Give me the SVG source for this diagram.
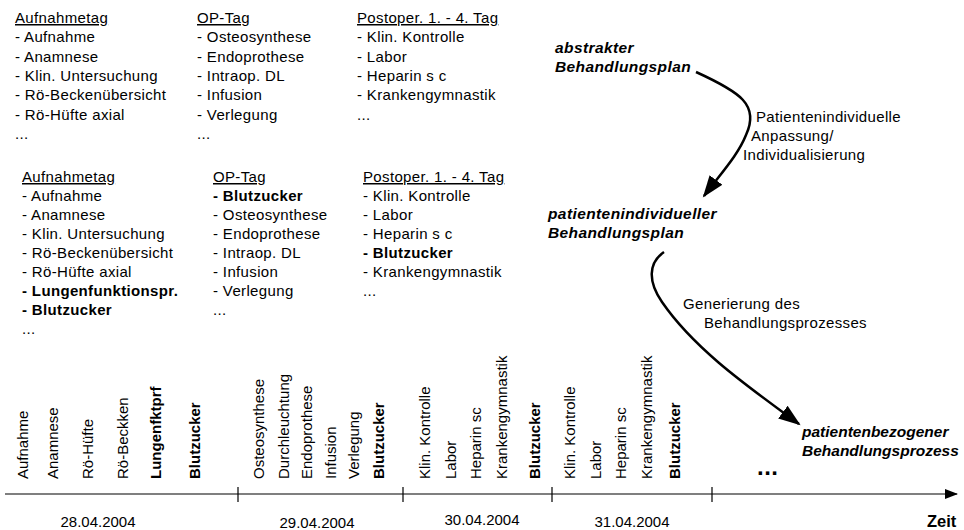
<svg xmlns="http://www.w3.org/2000/svg" width="964" height="530" viewBox="0 0 964 530">
<style>
text{font-family:"Liberation Sans",Arial,sans-serif;font-size:15px;fill:#000}
.l text{letter-spacing:0.35px}
.h{text-decoration:underline}
.b{font-weight:bold}
.bi{font-weight:bold;font-style:italic;font-size:15.5px;letter-spacing:0.4px}
.c{stroke:#000;stroke-width:2.5;fill:none}
.ax{stroke:#000;stroke-width:1.2;fill:none}
.m{text-anchor:middle}
</style>
<defs>
<marker id="ah" markerUnits="userSpaceOnUse" markerWidth="24" markerHeight="20" viewBox="0 0 24 20" refX="20" refY="10" orient="auto">
<path d="M0,2 L22,10 L0,18 Z" fill="#000"/>
</marker>
<marker id="ax" markerUnits="userSpaceOnUse" markerWidth="14" markerHeight="12" viewBox="0 0 14 12" refX="12" refY="6" orient="auto">
<path d="M0,1 L13,6 L0,11 Z" fill="#000"/>
</marker>
</defs>

<g id="plan-abstrakt" class="l">
<text class="h" x="15" y="23">Aufnahmetag</text>
<text x="15" y="42.3">- Aufnahme</text>
<text x="15" y="61.6">- Anamnese</text>
<text x="15" y="80.9">- Klin. Untersuchung</text>
<text x="15" y="100.2">- Rö-Beckenübersicht</text>
<text x="15" y="119.5">- Rö-Hüfte axial</text>
<text x="15" y="138.8">...</text>
<text class="h" x="197" y="23">OP-Tag</text>
<text x="197" y="42.3">- Osteosynthese</text>
<text x="197" y="61.6">- Endoprothese</text>
<text x="197" y="80.9">- Intraop. DL</text>
<text x="197" y="100.2">- Infusion</text>
<text x="197" y="119.5">- Verlegung</text>
<text x="197" y="138.8">...</text>
<text class="h" x="357" y="23">Postoper. 1. - 4. Tag</text>
<text x="357" y="42.3">- Klin. Kontrolle</text>
<text x="357" y="61.6">- Labor</text>
<text x="357" y="80.9">- Heparin s c</text>
<text x="357" y="100.2">- Krankengymnastik</text>
<text x="357" y="119.5">...</text>
</g>

<g id="plan-individuell" class="l">
<text class="h" x="22" y="182">Aufnahmetag</text>
<text x="22" y="201">- Aufnahme</text>
<text x="22" y="220">- Anamnese</text>
<text x="22" y="239">- Klin. Untersuchung</text>
<text x="22" y="258">- Rö-Beckenübersicht</text>
<text x="22" y="277">- Rö-Hüfte axial</text>
<text class="b" x="22" y="296">- Lungenfunktionspr.</text>
<text class="b" x="22" y="315">- Blutzucker</text>
<text x="22" y="334">...</text>
<text class="h" x="213" y="182">OP-Tag</text>
<text class="b" x="213" y="201">- Blutzucker</text>
<text x="213" y="220">- Osteosynthese</text>
<text x="213" y="239">- Endoprothese</text>
<text x="213" y="258">- Intraop. DL</text>
<text x="213" y="277">- Infusion</text>
<text x="213" y="296">- Verlegung</text>
<text x="213" y="315">...</text>
<text class="h" x="363" y="182">Postoper. 1. - 4. Tag</text>
<text x="363" y="201">- Klin. Kontrolle</text>
<text x="363" y="220">- Labor</text>
<text x="363" y="239">- Heparin s c</text>
<text class="b" x="363" y="258">- Blutzucker</text>
<text x="363" y="277">- Krankengymnastik</text>
<text x="363" y="296">...</text>
</g>

<g id="label-abstrakt">
<text class="bi" x="555" y="53">abstrakter</text>
<text class="bi" x="555" y="72">Behandlungsplan</text>
</g>
<g id="label-individuell">
<text class="bi" x="548" y="219">patientenindividueller</text>
<text class="bi" x="548" y="238">Behandlungsplan</text>
</g>
<g id="label-prozess">
<text class="bi" x="802" y="437" style="letter-spacing:0">patientenbezogener</text>
<text class="bi" x="802" y="456" style="letter-spacing:0">Behandlungsprozess</text>
</g>

<g id="connectors" class="l">
<path class="c" d="M696,72 C740,92 760,105 746,135 C738,155 722,172 704,196" marker-end="url(#ah)"/>
<path class="c" d="M664,252 C648,263 648,282 662,302 C695,350 750,388 799,424" marker-end="url(#ah)"/>
<text x="756" y="122">Patientenindividuelle</text>
<text x="751" y="141">Anpassung/</text>
<text x="743" y="160">Individualisierung</text>
<text x="683" y="309">Generierung des</text>
<text x="704" y="328">Behandlungsprozesses</text>
</g>

<g id="timeline">
<path class="ax" d="M5,494 H957" marker-end="url(#ax)"/>
<path class="ax" d="M238,487 V502 M403,487 V502 M552,487 V502 M712,487 V502"/>
<g transform="translate(28,479) rotate(-90)"><text>Aufnahme</text></g>
<g transform="translate(58,479) rotate(-90)"><text>Anamnese</text></g>
<g transform="translate(93,479) rotate(-90)"><text>Rö-Hüfte</text></g>
<g transform="translate(128,479) rotate(-90)"><text>Rö-Beckken</text></g>
<g transform="translate(161,479) rotate(-90)"><text class="b">Lungenfktprf</text></g>
<g transform="translate(200,479) rotate(-90)"><text class="b">Blutzucker</text></g>
<g transform="translate(264,479) rotate(-90)"><text>Osteosynthese</text></g>
<g transform="translate(289,479) rotate(-90)"><text>Durchleuchtung</text></g>
<g transform="translate(312,479) rotate(-90)"><text>Endoprothese</text></g>
<g transform="translate(336,479) rotate(-90)"><text>Infusion</text></g>
<g transform="translate(359,479) rotate(-90)"><text>Verlegung</text></g>
<g transform="translate(384,479) rotate(-90)"><text class="b">Blutzucker</text></g>
<g transform="translate(430,479) rotate(-90)"><text>Klin. Kontrolle</text></g>
<g transform="translate(456,479) rotate(-90)"><text>Labor</text></g>
<g transform="translate(481,479) rotate(-90)"><text>Heparin sc</text></g>
<g transform="translate(507,479) rotate(-90)"><text>Krankengymnastik</text></g>
<g transform="translate(540,479) rotate(-90)"><text class="b">Blutzucker</text></g>
<g transform="translate(575,479) rotate(-90)"><text>Klin. Kontrolle</text></g>
<g transform="translate(601,479) rotate(-90)"><text>Labor</text></g>
<g transform="translate(626,479) rotate(-90)"><text>Heparin sc</text></g>
<g transform="translate(652,479) rotate(-90)"><text>Krankengymnastik</text></g>
<g transform="translate(680,479) rotate(-90)"><text class="b">Blutzucker</text></g>
<text class="b" x="757" y="475" style="font-size:24px;letter-spacing:0.5px">...</text>
<text class="m" x="98" y="527">28.04.2004</text>
<text class="m" x="317" y="528">29.04.2004</text>
<text class="m" x="482" y="525">30.04.2004</text>
<text class="m" x="632" y="527">31.04.2004</text>
<text class="b" x="927" y="527" style="font-size:16.5px">Zeit</text>
</g>
</svg>
